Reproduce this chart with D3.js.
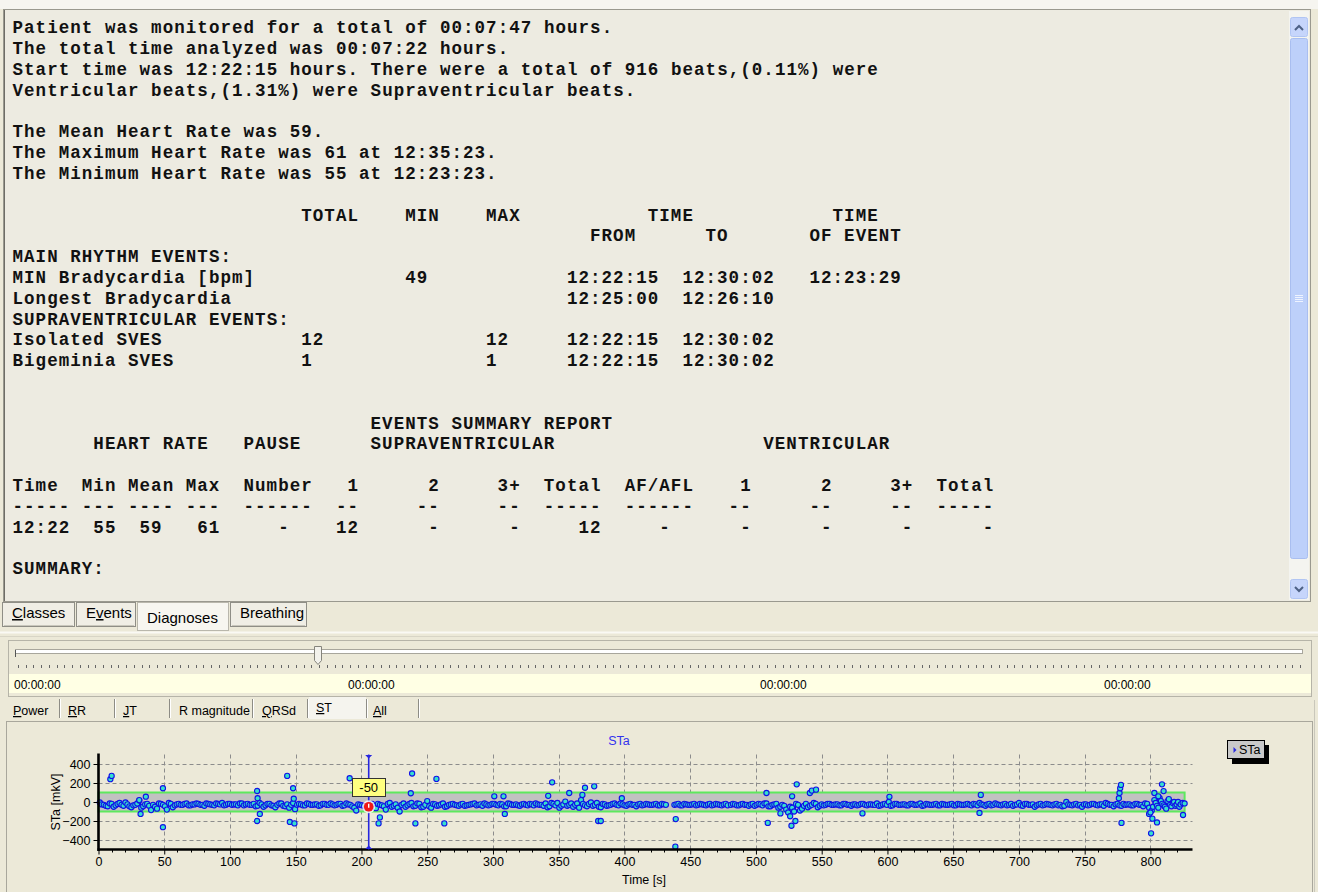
<!DOCTYPE html>
<html><head><meta charset="utf-8">
<script src="https://cdn.jsdelivr.net/npm/d3@7"></script>
<style>
html,body{margin:0;padding:0;background:#ECE9D8;overflow:hidden}
svg{display:block}
</style></head><body>
<svg id="c" width="1318" height="892"></svg>
<script>
// ---------------- DATA ----------------
const summaryLines = [
  "Patient was monitored for a total of 00:07:47 hours.",
  "The total time analyzed was 00:07:22 hours.",
  "Start time was 12:22:15 hours. There were a total of 916 beats,(0.11%) were",
  "Ventricular beats,(1.31%) were Supraventricular beats.",
  "",
  "The Mean Heart Rate was 59.",
  "The Maximum Heart Rate was 61 at 12:35:23.",
  "The Minimum Heart Rate was 55 at 12:23:23."
];
// rows: [lineIndex, [[column, text], ...]]
const rhythmRows = [
  [9,  [[25,"TOTAL"],[34,"MIN"],[41,"MAX"],[55,"TIME"],[71,"TIME"]]],
  [10, [[50,"FROM"],[60,"TO"],[69,"OF EVENT"]]],
  [11, [[0,"MAIN RHYTHM EVENTS:"]]],
  [12, [[0,"MIN Bradycardia [bpm]"],[34,"49"],[48,"12:22:15"],[58,"12:30:02"],[69,"12:23:29"]]],
  [13, [[0,"Longest Bradycardia"],[48,"12:25:00"],[58,"12:26:10"]]],
  [14, [[0,"SUPRAVENTRICULAR EVENTS:"]]],
  [15, [[0,"Isolated SVES"],[25,"12"],[41,"12"],[48,"12:22:15"],[58,"12:30:02"]]],
  [16, [[0,"Bigeminia SVES"],[25,"1"],[41,"1"],[48,"12:22:15"],[58,"12:30:02"]]]
];
const eventsRows = [
  [19, [[31,"EVENTS SUMMARY REPORT"]]],
  [20, [[7,"HEART RATE"],[20,"PAUSE"],[31,"SUPRAVENTRICULAR"],[65,"VENTRICULAR"]]],
  [22, [[0,"Time"],[6,"Min"],[10,"Mean"],[15,"Max"],[20,"Number"],[29,"1"],[36,"2"],[42,"3+"],[46,"Total"],[53,"AF/AFL"],[63,"1"],[70,"2"],[76,"3+"],[80,"Total"]]],
  [23, [[0,"-----"],[6,"---"],[10,"----"],[15,"---"],[20,"------"],[28,"--"],[35,"--"],[42,"--"],[46,"-----"],[53,"------"],[62,"--"],[69,"--"],[76,"--"],[80,"-----"]]],
  [24, [[0,"12:22"],[7,"55"],[11,"59"],[16,"61"],[23,"-"],[28,"12"],[36,"-"],[43,"-"],[49,"12"],[56,"-"],[63,"-"],[70,"-"],[77,"-"],[84,"-"]]],
  [26, [[0,"SUMMARY:"]]]
];

const mainTabs = ["Classes","Events","Diagnoses","Breathing"];
const mainTabUnderline = [0,1,-1,-1];
const chartTabs = ["Power","RR","JT","R magnitude","QRSd","ST","All"];
const chartTabUnderline = [0,0,0,-1,0,0,0];
const sliderLabels = ["00:00:00","00:00:00","00:00:00","00:00:00"];

const chartTitle = "STa";
const yAxisTitle = "STa [mkV]";
const xAxisTitle = "Time [s]";
const xTickValues = [0,50,100,150,200,250,300,350,400,450,500,550,600,650,700,750,800];
const yTickValues = [-400,-200,0,200,400];
const normLimits = [-100, 100];
const bandEndTime = 826;
const cursorTime = 205.5;
const cursorValue = -50;
const cursorLabel = "-50";

// ST trend beats (connected), [time s, ST mkV]; null marks a gap
const stTrend = [
[1,-5],[4,-30],[7,-45],[10,-20],[13,-35],[16,-10],[19,-40],[22,-25],[25,-55],[28,-30],[31,15],[34,-45],[37,-20],[40,-85],[43,-50],[46,-15],[49,-30],[52,-80],[55,-20],[58,-35],
[61,-20],[64,-30],[67,-15],[70,-35],[73,-25],[76,-20],[79,-30],[82,-15],[85,-25],[88,-35],[91,-20],[94,-10],[97,-30],[100,-20],[103,-25],[106,-35],[109,-15],[112,-25],[115,-30],[118,-20],
[121,-40],[124,-25],[127,-35],[130,-20],[133,-40],[136,-30],[139,-15],[142,-45],[145,-60],[148,-10],[151,-30],[154,-25],[157,-35],[160,-20],[163,-30],[166,-25],[169,-35],[172,-20],[175,-30],[178,-25],
[181,-30],[184,-20],[187,-35],[190,-25],[193,-45],[196,-90],[199,-30],[202,-40],[205.5,-50],[208,-20],[211,-65],[214,-30],[217,-45],[220,-20],[223,-50],[226,-25],[229,-100],[232,-15],[235,-35],[238,-10],
[241,-40],[244,-20],[247,-50],[250,10],[253,-60],[256,-25],[259,-35],[262,-15],[265,-45],[268,-25],[271,-30],[274,-40],[277,-20],[280,-35],[283,-25],[286,-15],[289,-30],[292,-40],[295,-25],[298,-30],
[301,-20],[304,-35],[307,-25],[310,-45],[313,-20],[316,-30],[319,-35],[322,-25],[325,-30],[328,-20],[331,-35],[334,-25],[337,-30],[340,-15],[343,-45],[346,-20],[349,-10],[352,-40],[355,5],[358,-30],
[361,-50],[364,-15],[367,20],[370,-35],[373,-20],[376,-40],[379,-10],[382,-55],[385,-25],[388,-35],[391,-20],[394,-30],[397,-15],[400,-35],[403,-25],[406,-30],[409,-45],[412,-20],[415,-30],[418,-25],
[421,-30],[424,-20],[427,-35],[430,-25],[434,null],[438,-30],[441,-20],[444,-35],[447,-25],[450,-30],[453,-20],[456,-30],[459,-25],[462,-35],[465,-20],[468,-30],[471,-25],[474,-35],[477,-20],
[481,-30],[484,-25],[487,-35],[490,-20],[493,-30],[496,-25],[499,-40],[502,-20],[505,-35],[508,-15],[511,-45],[514,-25],[517,-60],[520,-30],[523,-80],[526,-50],[529,-100],[532,-30],[535,-70],[538,-20],
[541,-40],[544,-10],[547,-55],[550,-25],[553,-30],[556,-20],[559,-30],[562,-25],[565,-35],[568,-20],[571,-30],[574,-25],[577,-35],[580,-20],[583,-30],[586,-25],[589,-30],[592,-15],[595,-35],[598,-20],
[601,0],[604,-35],[607,-20],[610,-30],[613,-25],[616,-35],[619,-20],[622,-30],[625,-15],[628,-35],[631,-25],[634,-30],[637,-20],[640,-35],[643,-25],[646,-30],[649,-20],[652,-35],[655,-25],[658,-30],
[661,-20],[664,-35],[667,-25],[670,-10],[673,-30],[676,-25],[679,-35],[682,-15],[685,-30],[688,-25],[691,-35],[694,-20],[697,-30],[700,-10],[703,-40],[706,-20],[709,-30],[712,-50],[715,-25],[718,-35],
[721,-20],[724,-30],[727,-25],[730,-35],[733,-45],[736,0],[739,-30],[742,-25],[745,-35],[748,-50],[751,-25],[754,-30],[757,-20],[760,-35],[763,-25],[766,-10],[769,-30],[772,-45],[775,-20],[778,-40],
[781,-30],[784,-25],[787,-35],[790,-20],[793,-30],[796,-15],[799,-60],[801,-90],[803,20],[805,-40],[807,40],[809,-20],[811,-50],[813,10],[815,-30],[817,-10],[819,-40],[821,0],[823,-25],[826,-15]
];
// beats in between the ones above (same chain)
const stTrendMid = [
[2.5,-25],[5.5,-40],[8.5,-15],[11.5,-50],[14.5,-20],[17.5,-30],[20.5,-5],[23.5,-45],[26.5,-35],[29.5,-15],[32.5,-60],[35.5,-25],[38.5,-40],[41.5,-30],[44.5,-70],[47.5,-20],[50.5,-45],[53.5,-10],[56.5,-55],[59.5,-25],
[62.5,-30],[65.5,-20],[68.5,-35],[71.5,-25],[74.5,-15],[77.5,-30],[80.5,-40],[83.5,-20],[86.5,-30],[89.5,-15],[92.5,-25],[95.5,-35],[98.5,-20],[101.5,-30],[104.5,-25],[107.5,-15],[110.5,-35],[113.5,-20],[116.5,-30],[119.5,-45],
[122.5,-10],[125.5,-50],[128.5,-20],[131.5,-35],[134.5,-55],[137.5,-15],[140.5,-40],[143.5,-25],[146.5,-30],[149.5,-75],[152.5,-20],[155.5,-35],[158.5,-15],[161.5,-30],[164.5,-25],[167.5,-40],[170.5,-20],[173.5,-30],[176.5,-15],[179.5,-35],
[182.5,-20],[185.5,-40],[188.5,-15],[191.5,-30],[194.5,-60],[197.5,-25],[200.5,-35],[203.5,-55],[207,-30],[209.5,-45],[212.5,-20],[215.5,-35],[218.5,-80],[221.5,-10],[224.5,-40],[227.5,-60],[230.5,-30],[233.5,-50],[236.5,-20],[239.5,-45],
[242.5,-15],[245.5,-55],[248.5,-30],[251.5,-45],[254.5,-20],[257.5,-40],[260.5,-25],[263.5,-50],[266.5,-30],[269.5,-20],[272.5,-35],[275.5,-25],[278.5,-40],[281.5,-30],[284.5,-20],[287.5,-35],[290.5,-25],[293.5,-15],[296.5,-35],[299.5,-20],
[302.5,-30],[305.5,-20],[308.5,-45],[311.5,-15],[314.5,-30],[317.5,-25],[320.5,-40],[323.5,-20],[326.5,-35],[329.5,-25],[332.5,-15],[335.5,-30],[338.5,-40],[341.5,-55],[344.5,-10],[347.5,-35],[350.5,-60],[353.5,-25],[356.5,-40],[359.5,-15],
[362.5,-30],[365.5,-60],[368.5,-20],[371.5,-45],[374.5,-5],[377.5,-30],[380.5,-50],[383.5,-20],[386.5,-40],[389.5,-30],[392.5,-15],[395.5,-35],[398.5,-25],[401.5,-40],[404.5,-20],[407.5,-30],[410.5,-25],[413.5,-35],[416.5,-20],[419.5,-30],
[422.5,-25],[425.5,-35],[428.5,-20],[431.5,-30],[439.5,-25],[442.5,-35],[445.5,-20],[448.5,-30],[451.5,-25],[454.5,-35],[457.5,-20],[460.5,-30],[463.5,-25],[466.5,-35],[469.5,-20],[472.5,-30],[475.5,-25],[478.5,-35],
[482.5,-20],[485.5,-35],[488.5,-25],[491.5,-30],[494.5,-40],[497.5,-20],[500.5,-30],[503.5,-25],[506.5,-15],[509.5,-45],[512.5,-30],[515.5,-20],[518.5,-50],[521.5,-40],[524.5,-110],[527.5,-60],[530.5,-20],[533.5,-90],[536.5,-40],[539.5,-55],
[542.5,-30],[545.5,-20],[548.5,-40],[551.5,-35],[554.5,-20],[557.5,-30],[560.5,-25],[563.5,-35],[566.5,-20],[569.5,-30],[572.5,-40],[575.5,-25],[578.5,-30],[581.5,-20],[584.5,-35],[587.5,-25],[590.5,-30],[593.5,-40],[596.5,-25],[599.5,-30],
[602.5,-40],[605.5,-20],[608.5,-30],[611.5,-25],[614.5,-35],[617.5,-20],[620.5,-30],[623.5,-25],[626.5,-40],[629.5,-20],[632.5,-30],[635.5,-25],[638.5,-35],[641.5,-20],[644.5,-30],[647.5,-25],[650.5,-35],[653.5,-20],[656.5,-30],[659.5,-25],
[662.5,-30],[665.5,-20],[668.5,-35],[671.5,-25],[674.5,-40],[677.5,-20],[680.5,-30],[683.5,-25],[686.5,-35],[689.5,-20],[692.5,-30],[695.5,-40],[698.5,-25],[701.5,-35],[704.5,-20],[707.5,-30],[710.5,-25],[713.5,-35],[716.5,-20],[719.5,-30],
[722.5,-25],[725.5,-35],[728.5,-20],[731.5,-30],[734.5,-40],[737.5,-25],[740.5,-35],[743.5,-20],[746.5,-30],[749.5,-25],[752.5,-35],[755.5,-20],[758.5,-30],[761.5,-25],[764.5,-40],[767.5,-20],[770.5,-30],[773.5,-25],[776.5,-35],[779.5,-20],
[782.5,-25],[785.5,-35],[788.5,-20],[791.5,-30],[794.5,-45],[797.5,-20],[802,-50],[804,-10],[806,-60],[808,10],[810,-35],[812,-70],[814,30],[816,-45],[818,0],[820,-25],[822,-50],[824.5,-10]
];
// isolated beats outside the trend chain
const stOutliers = [
[9,240],[10,275],[32,-126],[36,56],[49,145],[49,-265],[31,20],
[120.6,116],[120.6,-200],[122.7,-126],[121,40],
[143.5,275],[148,145],[145.5,-210],[149,-225],[148.5,35],
[191,250],[213,-225],[214,-162],[238.5,300],[237.5,92],[241,-225],[257,243],[263,-225],
[308,60],[301,60],[309,-126],[342,65],[345,207],[358,95],[368,75],[370,150],[377,165],[380,-200],[382,-200],[398,40],
[439,-180],[438.7,-470],[508,95],[509,-220],[527.5,60],[518.6,-120],[526,-150],[527,-250],[530,-200],[531,186],[541,95],[542.5,120],[545.7,130],
[581,-120],[601.5,55],[670,-115],[671,75],[776,40],[776.5,95],[777,145],[777.6,180],[778,-220],[799,-125],[800,-110],[801.5,-175],[800.5,-330],[805,-215],[808.8,186],[810,115],[803,95],[806,60],[824.8,-137]
];

// ---------------- DRAW ----------------
const svg = d3.select("#c");
const W = 1318, H = 892;
svg.append("rect").attr("width", W).attr("height", H).attr("fill", "#ECE9D8");
svg.append("rect").attr("width", W).attr("height", 9).attr("fill", "#F6F5F0");

// ---- report text panel ----
svg.append("rect").attr("x", 3.5).attr("y", 9.5).attr("width", 1307).attr("height", 592)
  .attr("fill", "#EDEBE1").attr("stroke", "#9A998F");
svg.append("line").attr("x1", 4.5).attr("x2", 4.5).attr("y1", 10).attr("y2", 601).attr("stroke", "#6E6D66");

const mono = svg.append("g")
  .attr("font-family", "'Liberation Mono','Courier New',monospace")
  .attr("font-weight", "bold").attr("font-size", "17.5px")
  .attr("letter-spacing", "1.05px").attr("fill", "#111")
  .style("white-space", "pre");
const charW = 11.55, textX0 = 12.5, lineY0 = 33.3, lineH = 20.8;
summaryLines.forEach((s, i) => {
  if (s) mono.append("text").attr("x", textX0).attr("y", lineY0 + i * lineH).text(s);
});
rhythmRows.concat(eventsRows).forEach(([li, cells]) => {
  cells.forEach(([col, t]) => {
    mono.append("text").attr("x", textX0 + col * charW).attr("y", lineY0 + li * lineH).text(t);
  });
});

// ---- scrollbar ----
const sb = svg.append("g");
sb.append("rect").attr("x", 1289).attr("y", 11).attr("width", 20).attr("height", 589).attr("fill", "#F4F4F0");
sb.append("rect").attr("x", 1290.5).attr("y", 17.5).attr("width", 17).attr("height", 19).attr("rx", 2)
  .attr("fill", "#C6D5FB").attr("stroke", "#B1C5F3");
sb.append("path").attr("d", "M1295,30 L1299,26 L1303,30").attr("fill", "none").attr("stroke", "#4D6185").attr("stroke-width", 2);
sb.append("rect").attr("x", 1290.5).attr("y", 38.5).attr("width", 17).attr("height", 520).attr("rx", 2)
  .attr("fill", "#BDD0FA").attr("stroke", "#A9BEF0");
[-3, -1, 1, 3].forEach(d => {
  sb.append("line").attr("x1", 1295).attr("x2", 1303).attr("y1", 298.5 + d).attr("y2", 298.5 + d)
    .attr("stroke", d % 2 ? "#EEF3FF" : "#8EA7E6");
});
sb.append("rect").attr("x", 1290.5).attr("y", 579.5).attr("width", 17).attr("height", 19).attr("rx", 2)
  .attr("fill", "#C6D5FB").attr("stroke", "#B1C5F3");
sb.append("path").attr("d", "M1295,587 L1299,591 L1303,587").attr("fill", "none").attr("stroke", "#4D6185").attr("stroke-width", 2);

// helper for underlined accelerator text
function accelText(g, txt, idx, x, y) {
  const t = g.append("text").attr("x", x).attr("y", y);
  if (idx < 0) { t.text(txt); return t; }
  if (idx > 0) t.append("tspan").text(txt.slice(0, idx));
  t.append("tspan").attr("text-decoration", "underline").text(txt[idx]);
  t.append("tspan").text(txt.slice(idx + 1));
  return t;
}

// ---- main tabs ----
const mainTabX = [[2, 75], [76, 136], [137, 229], [230, 307]];
const mt = svg.append("g").attr("font-family", "'Liberation Sans',Arial,sans-serif").attr("font-size", "15px").attr("fill", "#000");
mainTabs.forEach((name, i) => {
  const [a, b] = mainTabX[i];
  const sel = i === 2;
  const h = sel ? 28 : 24;
  mt.append("rect").attr("x", a + 0.5).attr("y", 602.5).attr("width", b - a - 1).attr("height", h)
    .attr("fill", sel ? "#F7F6F0" : "#F0EEE5").attr("stroke", sel ? "#B9B7AC" : "#8F8E86");
  if (!sel) mt.append("line").attr("x1", a + 2).attr("x2", b - 2).attr("y1", 625.5).attr("y2", 625.5).attr("stroke", "#C9C7BC");
  accelText(mt, name, mainTabUnderline[i], a + 10, sel ? 623 : 618);
});
svg.append("line").attr("x1", 307).attr("x2", 1311).attr("y1", 601.5).attr("y2", 601.5).attr("stroke", "#9A998F");
// splitter
svg.append("line").attr("x1", 0).attr("x2", 1318).attr("y1", 632.5).attr("y2", 632.5).attr("stroke", "#FAF9F4").attr("stroke-width", 2);
svg.append("line").attr("x1", 0).attr("x2", 1318).attr("y1", 636.5).attr("y2", 636.5).attr("stroke", "#D8D5C6");

// ---- slider panel ----
svg.append("rect").attr("x", 8.5).attr("y", 640.5).attr("width", 1303).attr("height", 56)
  .attr("fill", "#ECE9D8").attr("stroke", "#B6B4A8");
svg.append("rect").attr("x", 15.5).attr("y", 649.5).attr("width", 1287).attr("height", 4)
  .attr("fill", "#FFFFFF").attr("stroke", "#A8A69C");
svg.append("line").attr("x1", 15.5).attr("x2", 15.5).attr("y1", 650).attr("y2", 657).attr("stroke", "#555");
const tickG = svg.append("g").attr("stroke", "#666");
const sliderTickScale = d3.scaleLinear().domain([0, 166]).range([18, 1300]);
d3.range(167).forEach(i => {
  const tx = Math.round(sliderTickScale(i)) + 0.5;
  tickG.append("line").attr("x1", tx).attr("x2", tx).attr("y1", 665).attr("y2", 668);
});
svg.append("path").attr("d", "M314.5,646.5 H321.5 V660.5 L318,664.5 L314.5,660.5 Z")
  .attr("fill", "#F3F2EC").attr("stroke", "#85847C");
svg.append("rect").attr("x", 9).attr("y", 674).attr("width", 1302).attr("height", 19).attr("fill", "#FFFFE4");
const sliderLabelX = d3.scaleOrdinal().domain(d3.range(4)).range([14, 348, 760, 1104]);
const sl = svg.append("g").attr("font-family", "'Liberation Sans',Arial,sans-serif").attr("font-size", "12px").attr("fill", "#000");
sliderLabels.forEach((s, i) => sl.append("text").attr("x", sliderLabelX(i)).attr("y", 688.5).text(s));

// ---- chart tabs ----
const chartTabX = [[8, 60], [60, 115], [115, 170], [170, 253], [253, 308], [308, 367], [367, 419]];
const chartTabTextX = [13, 68, 123, 179, 262, 316, 373];
const ct = svg.append("g").attr("font-family", "'Liberation Sans',Arial,sans-serif").attr("font-size", "12.5px").attr("fill", "#000");
chartTabs.forEach((name, i) => {
  const [a, b] = chartTabX[i];
  const sel = i === 5;
  if (sel) ct.append("rect").attr("x", a + 1).attr("y", 697).attr("width", b - a - 2).attr("height", 22).attr("fill", "#F5F4EE");
  ct.append("line").attr("x1", b - 0.5).attr("x2", b - 0.5).attr("y1", 699).attr("y2", 718).attr("stroke", "#8D8C85");
  ct.append("line").attr("x1", b + 0.5).attr("x2", b + 0.5).attr("y1", 699).attr("y2", 718).attr("stroke", "#FFFFFF");
  accelText(ct, name, chartTabUnderline[i], chartTabTextX[i], sel ? 712 : 715);
});

// ---- chart panel ----
svg.append("rect").attr("x", 6.5).attr("y", 721.5).attr("width", 1306).attr("height", 175)
  .attr("fill", "#ECE9D8").attr("stroke", "#A9A79C");
svg.append("line").attr("x1", 1314.5).attr("x2", 1314.5).attr("y1", 700).attr("y2", 892).attr("stroke", "#C9C7BB");

const x = d3.scaleLinear().domain([0, 832]).range([98.5, 1192.5]);
const y = d3.scaleLinear().domain([-500, 500]).range([849.5, 754.5]);

// grid
const grid = svg.append("g").attr("stroke", "#8C8C8C").attr("stroke-dasharray", "4,3").attr("stroke-width", 1);
yTickValues.filter(v => v !== 0).forEach(v => {
  grid.append("line").attr("x1", x(0)).attr("x2", x(832)).attr("y1", Math.round(y(v)) + 0.5).attr("y2", Math.round(y(v)) + 0.5);
});
xTickValues.filter(v => v !== 0).forEach(v => {
  grid.append("line").attr("x1", Math.round(x(v)) + 0.5).attr("x2", Math.round(x(v)) + 0.5).attr("y1", y(500)).attr("y2", y(-500));
});

// norm band
svg.append("rect").attr("x", x(0)).attr("y", y(normLimits[1])).attr("width", x(bandEndTime) - x(0))
  .attr("height", y(normLimits[0]) - y(normLimits[1]))
  .attr("fill", "#C2C1C1").attr("stroke", "#5EE85E").attr("stroke-width", 2);

// trend line
const chain = stTrend.concat(stTrendMid).sort((a, b) => a[0] - b[0]);
const line = d3.line().defined(d => d[1] !== null).x(d => x(d[0])).y(d => y(d[1]));
svg.append("path").datum(chain).attr("d", line).attr("fill", "none")
  .attr("stroke", "#0A0AE6").attr("stroke-width", 2);

// markers
const mk = svg.append("g").attr("fill", "#36E0CC").attr("stroke", "#1010E8").attr("stroke-width", 1.1);
chain.filter(d => d[1] !== null).concat(stOutliers).forEach(d => {
  mk.append("circle").attr("cx", x(d[0])).attr("cy", y(d[1])).attr("r", 2.6);
});

// axes
const fontAx = "'Liberation Sans',Arial,sans-serif";
const yAxis = svg.append("g").attr("transform", `translate(${x(0)},0)`)
  .call(d3.axisLeft(y).tickValues(yTickValues).tickSize(5).tickPadding(3));
const xAxis = svg.append("g").attr("transform", `translate(0,${y(-500)})`)
  .call(d3.axisBottom(x).tickValues(xTickValues).tickSize(5).tickPadding(3));
[yAxis, xAxis].forEach(a => {
  a.select(".domain").remove();
  a.selectAll("text").attr("font-family", fontAx).attr("font-size", "12.5px").attr("fill", "#000");
  a.selectAll(".tick line").attr("stroke", "#000");
});
const minor = svg.append("g").attr("stroke", "#000");
d3.range(10, 830, 10).filter(v => v % 50 !== 0).forEach(v => {
  minor.append("line").attr("x1", Math.round(x(v)) + 0.5).attr("x2", Math.round(x(v)) + 0.5)
    .attr("y1", y(-500)).attr("y2", y(-500) + 3);
});
svg.append("line").attr("x1", x(0)).attr("x2", x(0)).attr("y1", y(500) - 1).attr("y2", y(-500) + 1.5)
  .attr("stroke", "#000").attr("stroke-width", 2.6);
svg.append("line").attr("x1", x(0) - 1).attr("x2", x(832)).attr("y1", y(-500)).attr("y2", y(-500))
  .attr("stroke", "#000").attr("stroke-width", 2.6);

// titles
svg.append("text").attr("x", 619).attr("y", 745).attr("text-anchor", "middle")
  .attr("font-family", fontAx).attr("font-size", "12.5px").attr("fill", "#3333EE").text(chartTitle);
svg.append("text").attr("transform", "translate(59.5,802) rotate(-90)").attr("text-anchor", "middle")
  .attr("font-family", fontAx).attr("font-size", "12.5px").attr("fill", "#000").text(yAxisTitle);
svg.append("text").attr("x", 644).attr("y", 884).attr("text-anchor", "middle")
  .attr("font-family", fontAx).attr("font-size", "12.5px").attr("fill", "#000").text(xAxisTitle);

// cursor
const cx = x(cursorTime);
svg.append("line").attr("x1", cx).attr("x2", cx).attr("y1", y(500)).attr("y2", y(-500))
  .attr("stroke", "#2626E0").attr("stroke-width", 1.6);
svg.append("path").attr("d", `M${cx - 3.5},${y(500) + 0.5} H${cx + 3.5} L${cx},${y(500) + 4} Z`).attr("fill", "#2626E0");
svg.append("path").attr("d", `M${cx - 3.5},${y(-500) - 0.5} H${cx + 3.5} L${cx},${y(-500) - 4} Z`).attr("fill", "#2626E0");
svg.append("circle").attr("cx", cx).attr("cy", y(cursorValue)).attr("r", 6.5).attr("fill", "#FFFFFF").attr("opacity", 0.8);
svg.append("circle").attr("cx", cx).attr("cy", y(cursorValue)).attr("r", 4.8).attr("fill", "#F01818");
svg.append("line").attr("x1", cx).attr("x2", cx).attr("y1", y(cursorValue) - 3).attr("y2", y(cursorValue) + 1)
  .attr("stroke", "#FFFFFF").attr("stroke-width", 1.4);
svg.append("rect").attr("x", Math.round(cx) - 16.5).attr("y", 778.5).attr("width", 33).attr("height", 18)
  .attr("fill", "#FFFF80").attr("stroke", "#333");
svg.append("text").attr("x", cx).attr("y", 792).attr("text-anchor", "middle")
  .attr("font-family", fontAx).attr("font-size", "13px").attr("fill", "#000").text(cursorLabel);

// legend
svg.append("rect").attr("x", 1232).attr("y", 745).attr("width", 37).attr("height", 19).attr("fill", "#000");
svg.append("rect").attr("x", 1227.5).attr("y", 740.5).attr("width", 37).attr("height", 18)
  .attr("fill", "#C9C9C9").attr("stroke", "#000");
svg.append("path").attr("d", "M1233.5,747 L1236.5,750 L1233.5,753 Z").attr("fill", "#2A2AE0");
svg.append("text").attr("x", 1239).attr("y", 754).attr("font-family", fontAx).attr("font-size", "12.5px")
  .attr("fill", "#000").text(chartTitle);
</script>
</body></html>
